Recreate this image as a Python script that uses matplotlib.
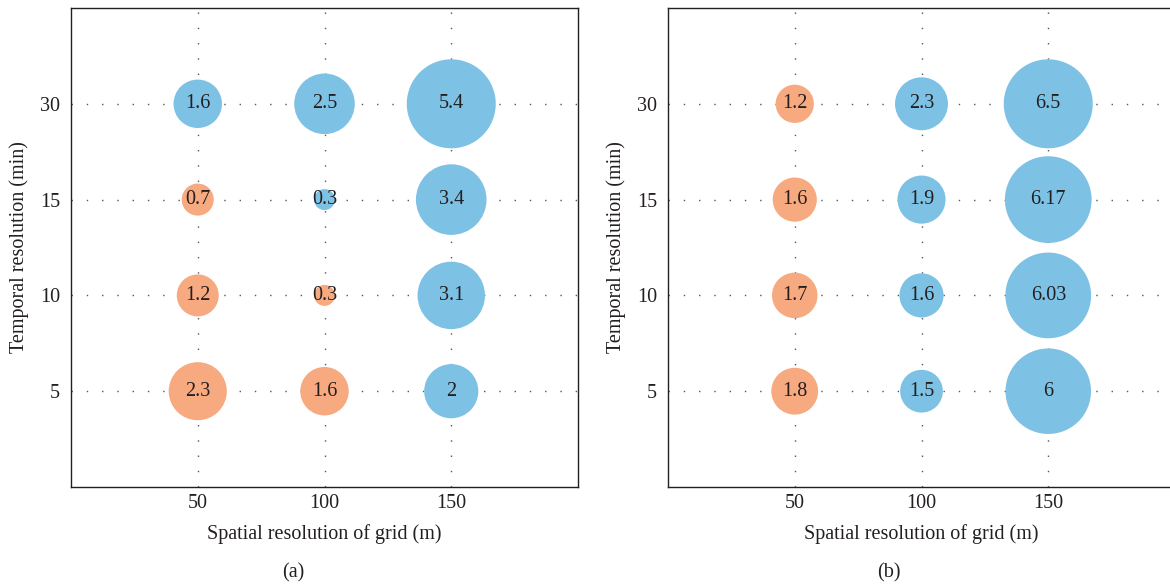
import numpy as np
import matplotlib.pyplot as plt

plt.rcParams['font.family'] = ['Liberation Serif', 'DejaVu Serif']

# categories
grid_sizes = [50, 100, 150]
time_steps = ['5', '10', '15', '30']

# values, rows = time step (5, 10, 15, 30), cols = grid size (50, 100, 150)
vals_a = [[2.3, 1.6, 2],
          [1.2, 0.3, 3.1],
          [0.7, 0.3, 3.4],
          [1.6, 2.5, 5.4]]
# 1 = orange, 0 = blue
group_a = [[1, 1, 0],
           [1, 1, 0],
           [1, 0, 0],
           [0, 0, 0]]
labels_a = [['2.3', '1.6', '2'],
            ['1.2', '0.3', '3.1'],
            ['0.7', '0.3', '3.4'],
            ['1.6', '2.5', '5.4']]

vals_b = [[1.8, 1.5, 6],
          [1.7, 1.6, 6.03],
          [1.6, 1.9, 6.17],
          [1.2, 2.3, 6.5]]
group_b = [[1, 0, 0],
           [1, 0, 0],
           [1, 0, 0],
           [1, 0, 0]]
labels_b = [['1.8', '1.5', '6'],
            ['1.7', '1.6', '6.03'],
            ['1.6', '1.9', '6.17'],
            ['1.2', '2.3', '6.5']]

orange = '#F7A97F'
blue = '#7DC1E5'
txt = '#231F20'
fs = 14.5

W, H = 1170, 588
fig = plt.figure(figsize=(W / 100, H / 100), dpi=100)

ax_a = fig.add_axes([71 / W, (H - 487) / H, 507 / W, 479 / H])
ax_b = fig.add_axes([668 / W, (H - 487) / H, 507 / W, 479 / H])


def bubble_panel(ax, vals, groups, labels):
    vals = np.array(vals, dtype=float)
    groups = np.array(groups)
    ypos = np.arange(1, len(time_steps) + 1)
    xx, yy = np.meshgrid(grid_sizes, ypos)
    # largest bubble ~89 px across, area proportional to value
    dmax = 89 * 0.72
    sizes = dmax ** 2 * vals / vals.max()
    cols = np.where(groups == 1, orange, blue)
    ax.scatter(xx.ravel(), yy.ravel(), s=sizes.ravel(), c=cols.ravel(),
               edgecolors='none', zorder=3)
    for i in range(len(ypos)):
        for j in range(len(grid_sizes)):
            ax.text(grid_sizes[j], ypos[i], labels[i][j], ha='center', va='center',
                    fontsize=fs, color=txt, zorder=4)
    ax.set_xlim(0, 200)
    ax.set_ylim(0, 5)
    ax.set_xticks(grid_sizes)
    ax.set_yticks(ypos)
    ax.set_yticklabels(time_steps)
    ax.tick_params(length=0, labelsize=fs, labelcolor=txt)
    ax.tick_params(axis='x', pad=5)
    ax.tick_params(axis='y', pad=8)
    ax.grid(True, color='#555555', linewidth=1.0, linestyle=(0, (1, 10)), zorder=1)
    ax.set_axisbelow(True)
    for s in ax.spines.values():
        s.set_linewidth(1.0)
        s.set_color('#231F20')
    ax.set_xlabel('Spatial resolution of grid (m)', fontsize=fs, color=txt, va='center')
    ax.xaxis.set_label_coords(0.5, -47 / 479)
    ax.set_ylabel('Temporal resolution (min)', fontsize=fs, color=txt, va='center')
    ax.yaxis.set_label_coords(-52 / 507, 0.5)


bubble_panel(ax_a, vals_a, group_a, labels_a)
bubble_panel(ax_b, vals_b, group_b, labels_b)

fig.text(293 / W, 1 - 573 / H, '(a)', ha='center', va='center', fontsize=fs, color=txt)
fig.text(889 / W, 1 - 573 / H, '(b)', ha='center', va='center', fontsize=fs, color=txt)

fig.savefig('out.png', dpi=100)
